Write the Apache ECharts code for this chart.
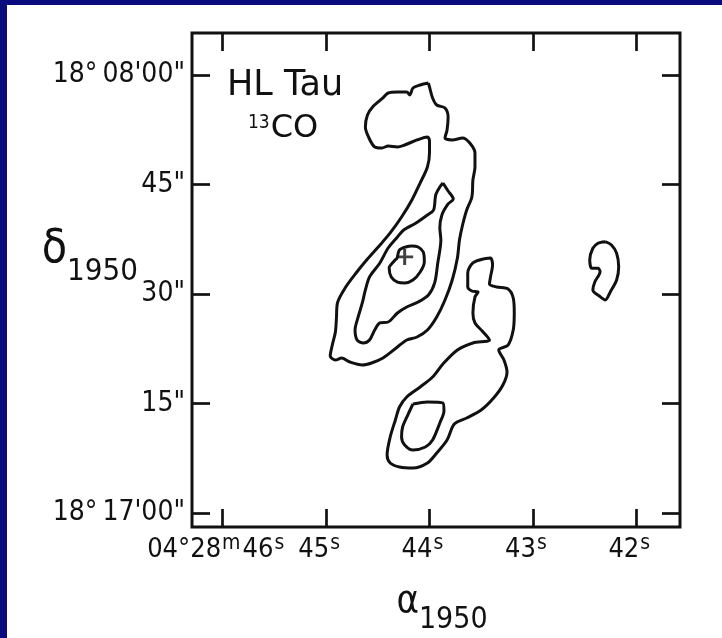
<!DOCTYPE html>
<html>
<head>
<meta charset="utf-8">
<script src="https://cdn.jsdelivr.net/npm/echarts@6/dist/echarts.min.js"></script>
<style>
  html, body { margin: 0; padding: 0; width: 722px; height: 638px; overflow: hidden; background: #0b0b80; }
  #chart { position: absolute; left: 7px; top: 5px; width: 715px; height: 633px; background: #ffffff; }
</style>
</head>
<body>
<div id="chart"></div>
<script>
// Right ascension (seconds of 04h28m) and declination (arcsec past 18°17'00") axes
const raTicks = [46, 45, 44, 43, 42];
const raTickLabels = ['{n|04°28}{sup|m}{n|46}{sup|s}', '{n|45}{sup|s}', '{n|44}{sup|s}', '{n|43}{sup|s}', '{n|42}{sup|s}'];
const decTicks = [0, 15, 30, 45, 60];
const decTickLabels = ['18°\u200917\'00"', '15"', '30"', '45"', '18°\u200908\'00"'];
const raRange = [41.577, 46.297];
const decRange = [-1.92, 65.75];

// 13CO contours: [RA seconds, Dec arcsec]
const contourNorthOuter = [
  [44.01,58.90],[44.09,58.63],[44.16,58.22],[44.19,57.26],[44.22,57.67],[44.31,57.67],[44.40,57.53],
  [44.45,56.85],[44.55,55.62],[44.60,54.52],[44.62,52.88],[44.59,51.51],[44.53,50.14],[44.46,50.00],
  [44.40,50.27],[44.31,50.14],[44.24,50.41],[44.12,51.10],[44.02,51.51],[44.00,50.96],[44.00,49.32],
  [44.02,47.40],[44.09,45.21],[44.17,42.88],[44.27,40.55],[44.38,38.36],[44.47,36.85],[44.60,34.79],
  [44.71,32.88],[44.81,30.96],[44.89,28.77],[44.90,26.71],[44.91,24.79],[44.94,23.01],[44.96,21.51],
  [44.91,20.96],[44.85,21.23],[44.77,20.68],[44.65,20.27],[44.56,20.55],[44.45,21.23],[44.31,22.74],
  [44.22,23.70],[44.12,24.11],[44.02,25.07],[43.93,26.85],[43.85,29.18],[43.78,31.92],[43.73,34.93],
  [43.71,37.40],[43.68,39.45],[43.64,41.51],[43.59,43.29],[43.58,45.62],[43.56,47.40],[43.56,49.32],
  [43.61,50.68],[43.68,51.37],[43.78,51.10],[43.85,51.37],[43.83,52.47],[43.82,54.25],[43.85,55.48],
  [43.93,55.89],[43.97,56.85],[44.00,58.36]
];
const contourNorthMiddle = [
  [43.87,45.21],[43.82,44.11],[43.77,43.01],[43.82,42.33],[43.88,40.82],[43.90,39.04],[43.89,37.40],
  [43.92,34.25],[43.95,31.51],[44.01,29.86],[44.11,28.90],[44.22,28.22],[44.31,27.40],[44.40,26.16],
  [44.48,26.03],[44.53,25.07],[44.58,23.70],[44.64,23.29],[44.70,23.70],[44.72,25.07],[44.69,26.85],
  [44.65,28.77],[44.62,30.55],[44.58,32.33],[44.48,34.25],[44.40,36.30],[44.31,37.81],[44.25,38.77],
  [44.13,39.73],[44.02,40.82],[43.96,41.51],[43.94,43.56],[43.90,44.66]
];
const contourNorthCore = [
  [44.31,34.93],[44.29,36.03],[44.23,36.44],[44.17,36.58],[44.11,36.44],[44.06,35.75],[44.05,34.38],
  [44.09,33.01],[44.16,31.92],[44.24,31.51],[44.31,31.64],[44.37,32.33],[44.39,33.56],[44.35,34.38]
];
const contourSouthOuter = [
  [43.48,34.79],[43.41,34.93],[43.39,33.97],[43.41,32.33],[43.42,31.37],[43.35,30.96],[43.24,30.68],
  [43.19,29.45],[43.18,27.40],[43.19,25.07],[43.24,23.01],[43.33,22.33],[43.28,20.96],[43.25,19.32],
  [43.29,17.53],[43.38,15.75],[43.50,14.11],[43.64,13.01],[43.76,12.19],[43.83,10.00],[43.93,8.22],
  [44.02,6.85],[44.16,6.16],[44.29,6.30],[44.38,6.85],[44.41,7.95],[44.38,10.41],[44.33,12.74],
  [44.29,14.52],[44.22,15.89],[44.09,17.26],[43.97,18.63],[43.87,20.41],[43.73,22.33],[43.58,23.29],
  [43.42,23.70],[43.49,24.93],[43.56,26.03],[43.58,27.40],[43.56,29.59],[43.53,30.27],[43.59,30.41],
  [43.63,30.96],[43.63,32.88],[43.58,34.25]
];
const contourSouthCore = [
  [44.16,14.93],[44.02,15.21],[43.87,15.07],[43.86,13.97],[43.90,12.33],[43.97,10.00],[44.04,9.04],
  [44.16,8.63],[44.24,9.32],[44.27,10.41],[44.26,11.78],[44.21,13.42]
];
const contourEast = [
  [42.30,37.16],[42.24,36.71],[42.19,35.58],[42.17,33.74],[42.19,31.92],[42.25,30.32],[42.30,29.18],
  [42.35,29.63],[42.42,30.55],[42.40,31.68],[42.35,33.05],[42.37,33.52],[42.43,33.52],[42.45,34.66],
  [42.42,36.26],[42.37,36.95]
];
const hlTauPosition = [44.24, 35.07];

const FONT = "'DejaVu Sans Condensed', 'DejaVu Sans', sans-serif";
const WIDE = "'DejaVu Sans', sans-serif";
const INK = '#111';

const contours = [contourNorthOuter, contourNorthMiddle, contourNorthCore,
                  contourSouthOuter, contourSouthCore, contourEast];

const tickStyle = { show: true, inside: true, length: 18, lineStyle: { color: INK, width: 2.7 } };
const hiddenLine = { show: false, onZero: false };

const chart = echarts.init(document.getElementById('chart'), null, { renderer: 'canvas' });
chart.setOption({
  animation: false,
  backgroundColor: '#ffffff',
  title: [
    { text: 'HL Tau', left: 220, top: 63, padding: 0,
      textStyle: { fontFamily: WIDE, fontSize: 35, fontWeight: 'normal', color: INK } },
    { text: '{sup|13}{n|CO}', left: 241, top: 106, padding: 0,
      textStyle: { fontWeight: 'normal', rich: {
        sup: { fontFamily: FONT, fontSize: 19, fontWeight: 'normal', color: INK, lineHeight: 34,
               verticalAlign: 'bottom', padding: [0, 1, 12, 0] },
        n: { fontFamily: WIDE, fontSize: 32, fontWeight: 'normal', color: INK, lineHeight: 34,
             verticalAlign: 'bottom' } } } }
  ],
  grid: { left: 185, top: 28, right: 42, bottom: 111, show: true, borderColor: INK, borderWidth: 3,
          backgroundColor: 'transparent', containLabel: false, outerBoundsMode: 'none' },
  xAxis: [
    { type: 'value', inverse: true, min: raRange[0], max: raRange[1], position: 'bottom',
      axisLine: hiddenLine, splitLine: { show: false },
      axisTick: Object.assign({ customValues: raTicks }, tickStyle),
      axisLabel: { customValues: raTicks, margin: 6, hideOverlap: false, padding: [0, 12, 0, 0],
                   rich: {
                     n: { fontFamily: FONT, fontSize: 27, color: INK, lineHeight: 30, verticalAlign: 'bottom' },
                     sup: { fontFamily: FONT, fontSize: 21, color: INK, lineHeight: 30, verticalAlign: 'bottom', padding: [0, 2, 9, 1] }
                   },
                   formatter: v => { const i = raTicks.indexOf(v); return i < 0 ? '' : raTickLabels[i]; } },
      name: '{g|α}{s|1950}', nameLocation: 'middle', nameGap: 56, nameMoveOverlap: false,
      nameTextStyle: { padding: [0, 0, 0, 12],
        rich: { g: { fontFamily: FONT, fontSize: 38, color: INK, verticalAlign: 'bottom', padding: [0, 0, 14, 0] },
                s: { fontFamily: FONT, fontSize: 30, color: INK, verticalAlign: 'bottom' } } } },
    { type: 'value', inverse: true, min: raRange[0], max: raRange[1], position: 'top',
      axisLine: hiddenLine, splitLine: { show: false }, axisLabel: { show: false },
      axisTick: Object.assign({ customValues: raTicks }, tickStyle) }
  ],
  yAxis: [
    { type: 'value', min: decRange[0], max: decRange[1], position: 'left',
      axisLine: hiddenLine, splitLine: { show: false },
      axisTick: Object.assign({ customValues: decTicks }, tickStyle),
      axisLabel: { customValues: decTicks, margin: 7, hideOverlap: false, fontFamily: FONT, fontSize: 28, color: INK,
                   formatter: v => { const i = decTicks.indexOf(v); return i < 0 ? '' : decTickLabels[i]; } },
      name: '{g|δ}{s|1950}', nameLocation: 'middle', nameRotate: 0, nameGap: 54, nameMoveOverlap: false,
      nameTextStyle: { padding: [0, 0, 46, 0],
        rich: { g: { fontFamily: FONT, fontSize: 46, color: INK, verticalAlign: 'bottom', padding: [0, 0, 14, 0] },
                s: { fontFamily: FONT, fontSize: 31, color: INK, verticalAlign: 'bottom' } } } },
    { type: 'value', min: decRange[0], max: decRange[1], position: 'right',
      axisLine: hiddenLine, splitLine: { show: false }, axisLabel: { show: false },
      axisTick: Object.assign({ customValues: decTicks }, tickStyle) }
  ],
  series: contours.map(c => ({
    type: 'line', xAxisIndex: 0, yAxisIndex: 0,
    data: c.concat([c[0]]),
    showSymbol: false, smooth: 0.3, silent: true,
    lineStyle: { color: INK, width: 3 }
  })).concat([{
    type: 'scatter', xAxisIndex: 0, yAxisIndex: 0, silent: true,
    data: [hlTauPosition],
    symbol: 'path://M-1.4,-8H1.4V-1.4H8V1.4H1.4V8H-1.4V1.4H-8V-1.4H-1.4Z', symbolSize: [17, 16],
    itemStyle: { color: INK }
  }])
});
</script>
</body>
</html>
